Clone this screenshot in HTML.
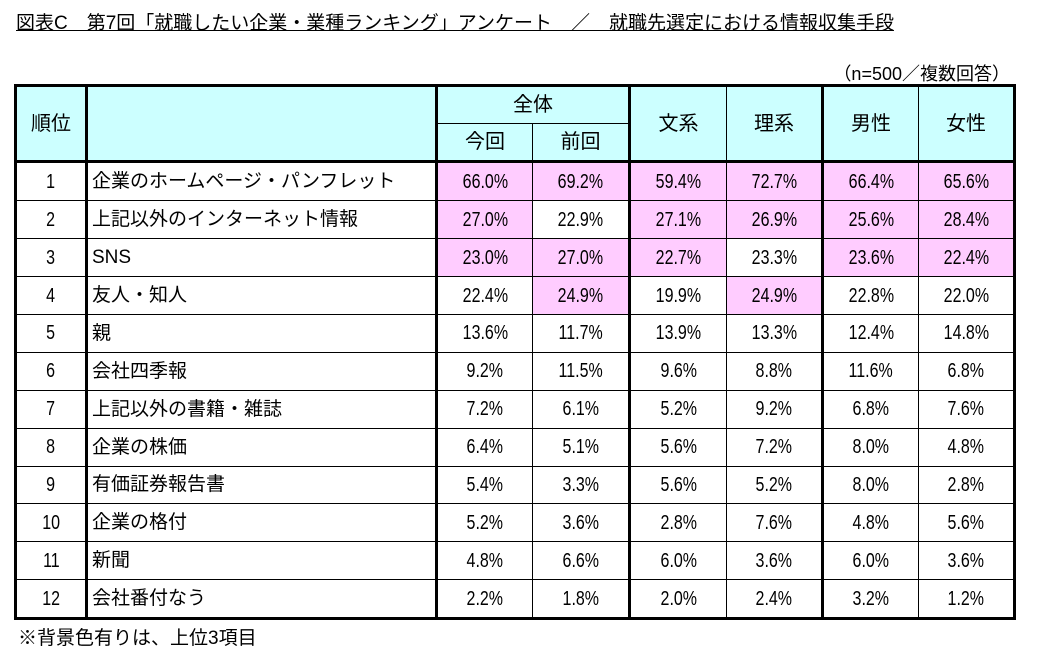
<!DOCTYPE html>
<html><head><meta charset="utf-8"><style>
body{margin:0;width:1048px;height:658px;background:#fff;font-family:"Liberation Sans","Noto Sans CJK JP",sans-serif;position:relative;overflow:hidden}
.title{position:absolute;left:16px;top:8px;font-size:19px;text-decoration:underline;white-space:nowrap}
.sub{position:absolute;right:38px;top:60px;font-size:18px;white-space:nowrap}
.foot{position:absolute;left:18px;top:623px;font-size:19px;white-space:nowrap}
table{position:absolute;left:14px;top:84px;border-collapse:collapse;table-layout:fixed;border:3px solid #000}
td{border:1px solid #000;padding:0;font-size:19px;text-align:center;height:36.9px;overflow:hidden;white-space:nowrap;line-height:1}
.h{background:#ccffff;font-size:20px}
.tl{border-left:3px solid #000}
.hb td{border-bottom:3px solid #000}
.it{text-align:left;padding-left:4px;border-left:3px solid #000;border-right:3px solid #000}
.p{background:#ffccff}
.n span{display:inline-block;transform:scaleX(0.8);font-size:20px}
</style></head><body>
<div class="title">図表C　第7回「就職したい企業・業種ランキング」アンケート　／　就職先選定における情報収集手段</div>
<div class="sub">（n=500／複数回答）</div>
<table>
<colgroup><col style="width:71px"><col style="width:350px"><col style="width:96px"><col style="width:97px"><col style="width:97px"><col style="width:96px"><col style="width:96px"><col style="width:96px"></colgroup>
<tr><td class="h" rowspan="2" style="border-bottom:3px solid #000">順位</td><td class="h it" rowspan="2" style="border-bottom:3px solid #000"></td><td class="h" colspan="2" style="height:35.5px">全体</td><td class="h tl" rowspan="2" style="border-bottom:3px solid #000">文系</td><td class="h" rowspan="2" style="border-bottom:3px solid #000">理系</td><td class="h tl" rowspan="2" style="border-bottom:3px solid #000">男性</td><td class="h" rowspan="2" style="border-bottom:3px solid #000">女性</td></tr>
<tr class="hb"><td class="h" style="height:35.5px">今回</td><td class="h">前回</td></tr>
<tr class="n"><td><span>1</span></td><td class="it">企業のホームページ・パンフレット</td><td class="p"><span>66.0%</span></td><td class="p"><span>69.2%</span></td><td class="p tl"><span>59.4%</span></td><td class="p"><span>72.7%</span></td><td class="p tl"><span>66.4%</span></td><td class="p"><span>65.6%</span></td></tr>
<tr class="n"><td><span>2</span></td><td class="it">上記以外のインターネット情報</td><td class="p"><span>27.0%</span></td><td><span>22.9%</span></td><td class="p tl"><span>27.1%</span></td><td class="p"><span>26.9%</span></td><td class="p tl"><span>25.6%</span></td><td class="p"><span>28.4%</span></td></tr>
<tr class="n"><td><span>3</span></td><td class="it">SNS</td><td class="p"><span>23.0%</span></td><td class="p"><span>27.0%</span></td><td class="p tl"><span>22.7%</span></td><td><span>23.3%</span></td><td class="p tl"><span>23.6%</span></td><td class="p"><span>22.4%</span></td></tr>
<tr class="n"><td><span>4</span></td><td class="it">友人・知人</td><td><span>22.4%</span></td><td class="p"><span>24.9%</span></td><td class="tl"><span>19.9%</span></td><td class="p"><span>24.9%</span></td><td class="tl"><span>22.8%</span></td><td><span>22.0%</span></td></tr>
<tr class="n"><td><span>5</span></td><td class="it">親</td><td><span>13.6%</span></td><td><span>11.7%</span></td><td class="tl"><span>13.9%</span></td><td><span>13.3%</span></td><td class="tl"><span>12.4%</span></td><td><span>14.8%</span></td></tr>
<tr class="n"><td><span>6</span></td><td class="it">会社四季報</td><td><span>9.2%</span></td><td><span>11.5%</span></td><td class="tl"><span>9.6%</span></td><td><span>8.8%</span></td><td class="tl"><span>11.6%</span></td><td><span>6.8%</span></td></tr>
<tr class="n"><td><span>7</span></td><td class="it">上記以外の書籍・雑誌</td><td><span>7.2%</span></td><td><span>6.1%</span></td><td class="tl"><span>5.2%</span></td><td><span>9.2%</span></td><td class="tl"><span>6.8%</span></td><td><span>7.6%</span></td></tr>
<tr class="n"><td><span>8</span></td><td class="it">企業の株価</td><td><span>6.4%</span></td><td><span>5.1%</span></td><td class="tl"><span>5.6%</span></td><td><span>7.2%</span></td><td class="tl"><span>8.0%</span></td><td><span>4.8%</span></td></tr>
<tr class="n"><td><span>9</span></td><td class="it">有価証券報告書</td><td><span>5.4%</span></td><td><span>3.3%</span></td><td class="tl"><span>5.6%</span></td><td><span>5.2%</span></td><td class="tl"><span>8.0%</span></td><td><span>2.8%</span></td></tr>
<tr class="n"><td><span>10</span></td><td class="it">企業の格付</td><td><span>5.2%</span></td><td><span>3.6%</span></td><td class="tl"><span>2.8%</span></td><td><span>7.6%</span></td><td class="tl"><span>4.8%</span></td><td><span>5.6%</span></td></tr>
<tr class="n"><td><span>11</span></td><td class="it">新聞</td><td><span>4.8%</span></td><td><span>6.6%</span></td><td class="tl"><span>6.0%</span></td><td><span>3.6%</span></td><td class="tl"><span>6.0%</span></td><td><span>3.6%</span></td></tr>
<tr class="n"><td><span>12</span></td><td class="it">会社番付なう</td><td><span>2.2%</span></td><td><span>1.8%</span></td><td class="tl"><span>2.0%</span></td><td><span>2.4%</span></td><td class="tl"><span>3.2%</span></td><td><span>1.2%</span></td></tr>
</table>
<div class="foot">※背景色有りは、上位3項目</div>
</body></html>
